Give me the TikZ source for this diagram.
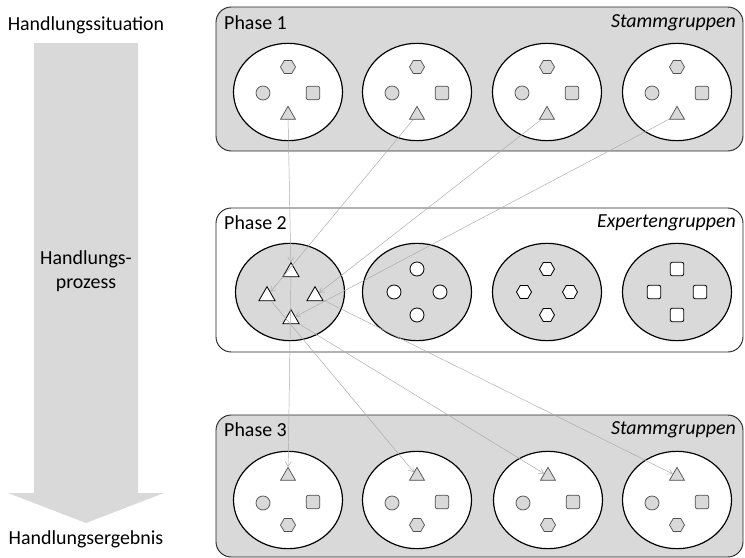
\documentclass[tikz,border=0pt]{standalone}
\usepackage{fontspec}
\setmainfont{Carlito}
\usetikzlibrary{shapes.geometric,arrows.meta}
\definecolor{hell}{RGB}{217,217,217}
\definecolor{rand}{RGB}{80,80,80}
\definecolor{pfeil}{RGB}{170,170,170}
\tikzset{
  txt/.style={inner sep=0pt,font=\fontsize{17}{21}\selectfont},
  phase/.style={draw=black!85,line width=0.8pt,rounded corners=13pt},
  gruppe/.style={ellipse,draw,line width=1pt,minimum width=3.27cm,minimum height=2.92cm,inner sep=0pt},
  grau/.style={draw=rand,fill=hell,line width=0.6pt},
  weiss/.style={draw=black,fill=white,line width=0.7pt},
  drei/.style={regular polygon,regular polygon sides=3,minimum size=0.52cm,inner sep=0pt},
  sechs/.style={regular polygon,regular polygon sides=6,minimum size=0.45cm,inner sep=0pt},
  kreis/.style={circle,minimum size=0.42cm,inner sep=0pt},
  quad/.style={rectangle,rounded corners=2pt,minimum size=0.41cm,inner sep=0pt},
  verbind/.style={draw=pfeil,line width=0.4pt,-{Straight Barb[length=4pt,width=5pt]}}
}
\begin{document}
\begin{tikzpicture}[x=0.03cm,y=-0.03cm]
\useasboundingbox (0,0) rectangle (745,558);
% Prozesspfeil
\fill[hell] (34,43) -- (138,43) -- (138,493) -- (164,493) -- (86,523) -- (8,493) -- (34,493) -- cycle;
\node[txt] (situation) at (86,25) {Handlungssituation};
\node[txt,align=center] (prozess) at (86,271) {Handlungs-\\prozess};
\node[txt] (ergebnis) at (86,539) {Handlungsergebnis};
% Phasen
\draw[phase,fill=hell] (216,7) rectangle (743,151);
\draw[phase,fill=white] (216,208) rectangle (743,352);
\draw[phase,fill=hell] (216,415) rectangle (743,557);
\node[txt,anchor=west] (p1) at (224,23) {Phase 1};
\node[txt,anchor=west] (p2) at (224,223) {Phase 2};
\node[txt,anchor=west] (p3) at (224,430) {Phase 3};
\node[txt,anchor=east] (s1) at (736,23) {\itshape Stammgruppen};
\node[txt,anchor=east] (s2) at (736,223) {\itshape Expertengruppen};
\node[txt,anchor=east] (s3) at (736,430) {\itshape Stammgruppen};
% Phase 1: Stammgruppen
\foreach \x [count=\i] in {288,417,547,677} {
  \node[gruppe,fill=white] (g1\i) at (\x,92) {};
  \node[sechs,grau] (h1\i) at (\x,67) {};
  \node[kreis,grau] (k1\i) at (\x-25,93) {};
  \node[quad,grau] (q1\i) at (\x+25,93) {};
  \node[drei,grau] (a\i) at (\x,115) {};
}
% Phase 2: Expertengruppen
\node[gruppe,fill=hell] (g21) at (290,292) {};
\node[drei,weiss,minimum size=0.56cm] (oben) at (291,272) {};
\node[drei,weiss,minimum size=0.56cm] (links) at (267,296) {};
\node[drei,weiss,minimum size=0.56cm] (rechts) at (315,296) {};
\node[drei,weiss,minimum size=0.56cm] (unten) at (291,319) {};
\foreach \x/\form [count=\i from 2] in {417/kreis,547/sechs,677/quad} {
  \node[gruppe,fill=hell] (g2\i) at (\x,292) {};
  \node[\form,weiss] (o\i) at (\x,269) {};
  \node[\form,weiss] (l\i) at (\x-23,292) {};
  \node[\form,weiss] (r\i) at (\x+23,292) {};
  \node[\form,weiss] (u\i) at (\x,315) {};
}
% Phase 3: Stammgruppen
\foreach \x [count=\i] in {288,417,548,677} {
  \node[gruppe,fill=white] (g3\i) at (\x,500) {};
  \node[drei,grau] (c\i) at (\x,476) {};
  \node[kreis,grau] (k3\i) at (\x-25,503) {};
  \node[quad,grau] (q3\i) at (\x+25,502) {};
  \node[sechs,grau] (h3\i) at (\x,525) {};
}
% Wechsel
\draw[verbind] (a1) -- (oben);
\draw[verbind] (a2) -- (links);
\draw[verbind] (a3) -- (rechts);
\draw[verbind] (a4) -- (unten);
\draw[verbind] (oben) -- (c1);
\draw[verbind] (links) -- (c2);
\draw[verbind] (unten) -- (c3);
\draw[verbind] (rechts) -- (c4);
\end{tikzpicture}
\end{document}
